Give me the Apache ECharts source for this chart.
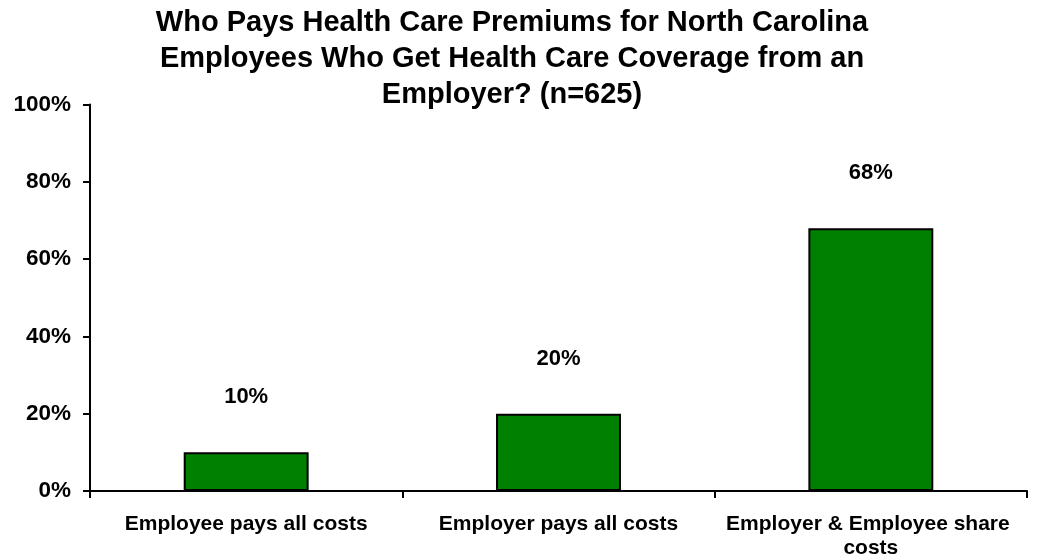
<!DOCTYPE html>
<html>
<head>
<meta charset="utf-8">
<script src="https://cdn.jsdelivr.net/npm/echarts@6/dist/echarts.min.js"></script>
<style>
  html, body { margin: 0; padding: 0; background: #fff; }
  #chart { width: 1037px; height: 560px; }
</style>
</head>
<body>
<div id="chart"></div>
<script>
// Who pays the premiums, share of respondents (%)
const categories = ['Employee pays all costs', 'Employer pays all costs', 'Employer & Employee share costs'];
const shares = [10, 20, 68];
const yTicks = { min: 0, max: 100, interval: 20 };

const FONT = "Arial, 'Liberation Sans', sans-serif";

const chart = echarts.init(document.getElementById('chart'), null, { renderer: 'canvas' });
chart.setOption({
  animation: false,
  backgroundColor: '#ffffff',
  title: {
    text: 'Who Pays Health Care Premiums for North Carolina\nEmployees Who Get Health Care Coverage from an\nEmployer? (n=625)',
    left: 507,
    top: 0,
    textAlign: 'center',
    textStyle: {
      fontFamily: FONT,
      fontWeight: 'bold',
      fontSize: 29,
      lineHeight: 36,
      color: '#000'
    }
  },
  grid: { left: 90, right: 10, top: 104.5, bottom: 68.3, containLabel: false },
  xAxis: {
    type: 'category',
    data: categories,
    axisLine: { lineStyle: { color: '#000', width: 2 } },
    axisTick: { show: true, length: 7, lineStyle: { color: '#000', width: 2 } },
    axisLabel: {
      interval: 0,
      margin: 21,
      fontFamily: FONT,
      fontWeight: 'bold',
      fontSize: 21,
      lineHeight: 24,
      color: '#000',
      width: 300,
      overflow: 'break'
    }
  },
  yAxis: {
    type: 'value',
    min: yTicks.min,
    max: yTicks.max,
    interval: yTicks.interval,
    splitLine: { show: false },
    axisLine: { show: true, lineStyle: { color: '#000', width: 2 } },
    axisTick: { show: true, length: 7, lineStyle: { color: '#000', width: 2 } },
    axisLabel: {
      margin: 19,
      formatter: '{value}%',
      fontFamily: FONT,
      fontWeight: 'bold',
      fontSize: 22.5,
      color: '#000'
    }
  },
  series: [{
    type: 'bar',
    data: shares,
    barWidth: '40%',
    itemStyle: { color: '#008000', borderColor: '#000', borderWidth: 2 },
    label: {
      show: true,
      position: 'top',
      distance: 44,
      formatter: '{c}%',
      fontFamily: FONT,
      fontWeight: 'bold',
      fontSize: 22,
      color: '#000'
    }
  }]
});
</script>
</body>
</html>
